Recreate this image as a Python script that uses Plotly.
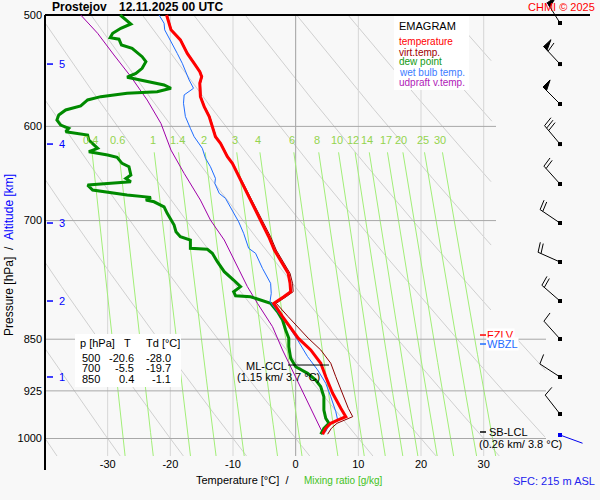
import math
import numpy as np
import plotly.graph_objects as go

# ---------------- data (pressure hPa / temperature degC) ----------------
P_T = [500, 512.3, 520.8, 532.4, 541.1, 548.6, 553.1, 559.1, 571.5, 580.9, 590.4, 600.3,
       610.2, 616.9, 630.5, 637.4, 647.9, 662.3, 680.6, 699.4, 718.8, 734.6, 746.7, 763.1,
       775.7, 786.4, 792.9, 797.2, 801.5, 819.2, 837.2, 848.6, 865.1, 884.1, 903.8, 928.7,
       951.8, 964.9, 970.2, 975.4, 983.4, 993]
T_C = [-20.6, -19.9, -18.4, -17.3, -16.2, -15.3, -15.0, -15.3, -15.2, -14.6, -13.8, -13.3,
       -12.8, -12.0, -10.9, -10.1, -9.3, -8.3, -6.9, -5.6, -4.3, -3.4, -2.4, -1.2,
       -0.9, -0.8, -1.9, -2.7, -3.5, -2.1, -0.5, 0.4, 2.4, 4.0, 4.8, 5.9,
       7.2, 8.0, 6.7, 5.6, 4.8, 4.3]
TV_C = [-20.5, -19.8, -18.3, -17.2, -16.1, -15.2, -14.9, -15.2, -15.1, -14.5, -13.7, -13.2,
        -12.7, -11.9, -10.8, -10.0, -9.2, -8.1, -6.7, -5.4, -4.0, -3.1, -2.1, -0.9,
        -0.5, -0.4, -1.5, -2.3, -3.1, -1.2, 0.8, 2.0, 4.0, 5.6, 6.4, 7.4,
        8.4, 9.1, 7.8, 6.6, 5.7, 5.1]

P_TD = [500, 504.1, 507.4, 511.0, 515.2, 518.9, 520.2, 525.2, 528.0, 535.3, 539.7, 545.6,
        550.1, 553.6, 557.7, 560.7, 563.7, 566.9, 568.4, 571.5, 574.6, 580.2, 584.1, 588.9,
        593.8, 598.7, 601.9, 605.3, 608.5, 613.5, 621.9, 625.4, 628.7, 631.1, 637.4, 640.9,
        649.7, 653.3, 656.9, 658.6, 660.5, 665.9, 668.4, 671.4, 673.9, 676.9, 678.8, 684.4,
        691.8, 699.4, 705.2, 712.9, 718.8, 722.6, 732.5, 733.7, 738.5, 748.7, 761.1, 771.5,
        780.0, 786.4, 791.6, 792.9, 797.2, 801.5, 812.6, 823.6, 837.2, 848.6, 860.4, 876.9,
        889.1, 898.8, 908.7, 918.7, 933.9, 954.5, 967.5, 975.4, 983.4, 993]
TD_C = [-28.0, -27.1, -26.3, -27.9, -29.2, -29.6, -28.2, -27.8, -26.1, -24.5, -23.9, -24.5,
        -25.5, -26.9, -23.7, -21.0, -19.9, -22.1, -26.9, -31.1, -33.2, -34.3, -36.7, -37.8,
        -38.1, -37.5, -36.2, -36.7, -33.2, -33.0, -31.6, -33.0, -30.0, -28.5, -27.7, -26.6,
        -26.3, -27.1, -26.3, -29.0, -33.2, -32.4, -30.0, -26.9, -23.1, -23.9, -22.6, -21.0,
        -20.5, -19.9, -19.4, -19.1, -18.4, -16.8, -16.8, -14.1, -13.3, -12.5, -11.4, -9.9,
        -8.8, -9.9, -9.6, -7.2, -5.6, -4.0, -2.9, -2.1, -1.6, -1.1, -1.1, -0.8,
        0.0, 1.9, 3.2, 4.0, 4.5, 4.5, 4.8, 5.3, 4.5, 4.0]

P_TW = [500, 506.8, 512.3, 523.7, 532.4, 541.1, 548.6, 556.1, 563.7, 566.9, 569.9, 577.7,
        590.4, 601.9, 610.2, 621.9, 632.1, 640.9, 653.3, 658.6, 669.5, 675.0, 688.1, 701.4,
        714.8, 732.5, 738.5, 756.9, 775.7, 788.5, 799.4, 814.7, 832.7, 851.0, 874.6, 893.9,
        913.6, 933.9, 957.1, 970.2, 978.2, 988.9, 993]
TW_C = [-21.8, -21.0, -20.9, -19.7, -18.9, -18.1, -17.6, -17.0, -16.3, -17.0, -17.8, -17.9,
        -17.6, -16.8, -16.2, -14.9, -14.4, -13.6, -12.8, -12.9, -12.2, -11.2, -10.1, -9.1,
        -8.3, -7.5, -6.4, -5.3, -4.0, -3.9, -4.1, -2.7, -1.1, 0.3, 1.9, 3.5,
        4.8, 5.6, 6.4, 6.7, 5.3, 4.8, 4.2]

P_UP = [500, 515.2, 533.8, 553.1, 574.6, 597.1, 623.7, 647.9, 676.9, 699.4, 722.6, 750.7,
        780.0, 801.5, 832.7, 865.1, 898.8, 928.7, 975.4, 991]
TUP_C = [-34.3, -31.6, -29.0, -26.3, -23.7, -21.5, -19.9, -17.8, -15.2, -13.6, -11.4, -9.6,
         -7.7, -6.1, -3.7, -2.1, -0.3, 1.3, 3.6, 4.3]

# wind (barbs every 0.5 km)
BARB_P = [506.6, 541.8, 578.4, 617.6, 659.3, 702.8, 749.1, 798.5, 849.7, 904.2, 960.7]
BARB_DIR = [328, 317, 315, 320, 318, 304, 294, 311, 318, 303, 322]
BARB_KT = [50, 60, 50, 30, 20, 20, 20, 20, 10, 10, 10]
SFC_P, SFC_DIR, SFC_KT = 994.3, 110, 2

# background reference lines
MIX_W = [0.4, 0.6, 1, 1.4, 2, 3, 4, 6, 8, 10, 12, 14, 17, 20, 25, 30]
MIX_LABELS = ["0.4", "0.6", "1", "1.4", "2", "3", "4", "6", "8", "10", "12", "14", "17", "20", "25", "30"]
ISOBARS = [600, 700, 850, 925, 1000]
ISOTHERMS = [-30, -20, -10, 0, 10, 20, 30]
THETA_1000 = [-40, -30, -20, -10, 0, 10, 20, 30, 40, 50, 60, 70, 80, 90]
X_TICKS = [-30, -20, -10, 0, 10, 20, 30]
Y_TICKS = [500, 600, 700, 850, 925, 1000]

ALT_KM = [1, 2, 3, 4, 5]
ALT_P = [904.2, 798.5, 702.8, 617.6, 541.8]

TABLE_P = [500, 700, 850]
TABLE_T = [-20.6, -5.5, 0.4]
TABLE_TD = [-28.0, -19.7, -1.1]

FZLV_P, WBZL_P, CCL_P, LCL_P = 844.2, 856.7, 886.7, 989.4

# ---------------- geometry ----------------
FONT = "Liberation Sans, Arial, sans-serif"
W, H = 600, 500
ML, MR, MT, MB = 45, 10, 0, 44
PW, PH = W - ML - MR, H - MT - MB
X0 = -40.0
PX_PER_C = 6.267
X1 = X0 + PW / PX_PER_C
P_BOT, P_TOP = 1029.05, 487.87
LOG_BOT, LOG_TOP = math.log10(P_BOT), math.log10(P_TOP)
PX_PER_DEC = PH / (LOG_BOT - LOG_TOP)
BG = "#f8f8f8"


def px_to_t(px):
    return X0 + (px - ML) / PX_PER_C


def paper_x(px):
    return (px - ML) / PW


def paper_y(py):
    return (MT + PH - py) / PH


def p_paper(p):
    return (LOG_BOT - math.log10(p)) / (LOG_BOT - LOG_TOP)


def t_paper(t):
    return (t - X0) / (X1 - X0)


def t_mix(w, p):
    e = w * p / (622.0 + w)
    l = np.log(e / 6.112)
    return 243.5 * l / (17.67 - l)


fig = go.Figure()


def line(x, y, color, width=1, dash=None):
    fig.add_trace(go.Scatter(x=list(x), y=list(y), mode="lines",
                             line=dict(color=color, width=width, dash=dash),
                             hoverinfo="skip", showlegend=False))


# dry adiabats
pp = np.geomspace(500, P_BOT, 300)
for th in THETA_1000:
    tt = (th + 273.15) * (pp / 1000.0) ** 0.2857 - 273.15
    lim = np.where(pp < 848, px_to_t(492), px_to_t(546))
    tt = np.where(tt <= lim, tt, np.nan)
    line(tt, pp, "#d0d0d0", 1)

# isotherms
for t in ISOTHERMS:
    line([t, t], [500, P_BOT], "#a0a0a0" if t == 0 else "#d6d6d6", 1)

# mixing ratio lines
pm = np.geomspace(626, P_BOT, 40)
for w in MIX_W:
    line(t_mix(w, pm), pm, "#a2ee78", 1)

# isobars
for p in ISOBARS:
    right_px = 496 if p < 800 else 546
    line([X0, px_to_t(right_px)], [p, p], "#a8a8a8", 1)

# top frame line at 500 hPa
line([X0, X1], [500, 500], "#000000", 2)

# profiles
line(TUP_C, P_UP, "#a000a8", 1)
line(TD_C, P_TD, "#008a00", 3)
line(TW_C, P_TW, "#1e6cff", 1)
line(TV_C, P_T, "#8b0000", 1)
line(T_C, P_T, "#ff0000", 3)

# altitude ticks
for km, p in zip(ALT_KM, ALT_P):
    line([px_to_t(47), px_to_t(53)], [p, p], "#0000ff", 1.5)

# level markers
line([px_to_t(288), px_to_t(329)], [CCL_P, CCL_P], "#000000", 1)
line([px_to_t(480), px_to_t(486)], [FZLV_P, FZLV_P], "#ff0000", 1.5)
line([px_to_t(480), px_to_t(486)], [WBZL_P, WBZL_P], "#1e6cff", 1.5)
line([px_to_t(480), px_to_t(486)], [LCL_P, LCL_P], "#000000", 1.5)

# wind barbs
BARB_T = px_to_t(560)


def to_data(p0, dx, dy):
    return BARB_T + dx / PX_PER_C, p0 * 10 ** (dy / PX_PER_DEC)


def draw_barb(p0, direction, speed, color):
    rad = math.radians(direction)
    ux, uy = math.sin(rad), -math.cos(rad)
    nx, ny = -uy, ux
    L = 24.0
    segs = [[(0, 0), (L * ux, L * uy)]]
    polys = []
    pos = L
    spd = int(round(speed / 5.0)) * 5
    n50, rem = divmod(spd, 50)
    n10, rem = divmod(rem, 10)
    n5 = 1 if rem >= 5 else 0
    for _ in range(n50):
        polys.append([(pos * ux, pos * uy), (pos * ux + 10 * nx, pos * uy + 10 * ny),
                      ((pos - 5) * ux, (pos - 5) * uy)])
        pos -= 6.5
    for _ in range(n10):
        segs.append([(pos * ux, pos * uy), ((pos + 2) * ux + 10 * nx, (pos + 2) * uy + 10 * ny)])
        pos -= 3.2
    for _ in range(n5):
        segs.append([(pos * ux, pos * uy), ((pos + 1) * ux + 5 * nx, (pos + 1) * uy + 5 * ny)])
    xs, ys = [], []
    for seg in segs:
        for dx, dy in seg:
            t, p = to_data(p0, dx, dy)
            xs.append(t)
            ys.append(p)
        xs.append(None)
        ys.append(None)
    line(xs, ys, color, 1)
    for poly in polys:
        px_, py_ = [], []
        for dx, dy in poly + [poly[0]]:
            t, p = to_data(p0, dx, dy)
            px_.append(t)
            py_.append(p)
        fig.add_trace(go.Scatter(x=px_, y=py_, mode="lines", fill="toself", fillcolor=color,
                                 line=dict(color=color, width=1), hoverinfo="skip", showlegend=False))
    fig.add_trace(go.Scatter(x=[BARB_T], y=[p0], mode="markers",
                             marker=dict(symbol="square", size=4, color=color),
                             hoverinfo="skip", showlegend=False, cliponaxis=False))


for p, d, s in zip(BARB_P, BARB_DIR, BARB_KT):
    draw_barb(p, d, s, "#000000")
draw_barb(SFC_P, SFC_DIR, SFC_KT, "#0000ee")

# ---------------- boxes ----------------
shapes = [
    dict(type="rect", xref="paper", yref="paper", x0=paper_x(394), x1=paper_x(469),
         y0=paper_y(16), y1=paper_y(90), fillcolor="#ffffff", line=dict(width=0), layer="above"),
    dict(type="rect", xref="paper", yref="paper", x0=paper_x(75), x1=paper_x(181),
         y0=paper_y(334), y1=paper_y(387), fillcolor="#ffffff", line=dict(width=0), layer="above"),
    dict(type="line", xref="paper", yref="paper", x0=0, x1=0, y0=p_paper(500), y1=paper_y(470),
         line=dict(color="#000000", width=2), layer="above"),
]

# ---------------- text ----------------
anns = []


def ann(text, px, py, size=11, color="#000000", xanchor="left", bold=False, **kw):
    anns.append(dict(text=f"<b>{text}</b>" if bold else text, x=paper_x(px), y=paper_y(py),
                     xref="paper", yref="paper", showarrow=False, xanchor=xanchor, yanchor="middle",
                     font=dict(family=FONT, size=size, color=color), **kw))


def ann_p(text, px, p, size=11, color="#000000", xanchor="left", **kw):
    anns.append(dict(text=text, x=paper_x(px), y=p_paper(p), xref="paper", yref="paper",
                     showarrow=False, xanchor=xanchor, yanchor="middle",
                     font=dict(family=FONT, size=size, color=color), **kw))


ann("Prostejov", 50, 7, size=12, bold=True)
ann("12.11.2025 00 UTC", 117, 7, size=12, bold=True)
ann("CHMI © 2025", 597, 7, size=11, color="#ff0000", xanchor="right")

ann("EMAGRAM", 397, 26, size=11)
legend_items = [("temperature", "#ff0000"), ("virt.temp.", "#a00000"), ("dew point", "#129a12"),
                ("wet bulb temp.", "#3c7cff"), ("udpraft v.temp.", "#b020b8")]
for i, (txt, col) in enumerate(legend_items):
    ann(txt, 397, 42 + 10 * i, size=10, color=col)

# table
ann("p [hPa]", 78, 343)
ann("T", 127, 343, xanchor="center")
ann("Td [°C]", 144, 343)
for i, (p, t, td) in enumerate(zip(TABLE_P, TABLE_T, TABLE_TD)):
    yy = 358 + 10.4 * i
    ann(str(p), 102, yy, xanchor="right")
    ann(f"{t:.1f}", 136, yy, xanchor="right")
    ann(f"{td:.1f}", 173, yy, xanchor="right")

# mixing ratio labels
for w, lab in zip(MIX_W, MIX_LABELS):
    anns.append(dict(text=lab, x=t_paper(float(t_mix(w, 614.0))), y=p_paper(614.0),
                     xref="paper", yref="paper", showarrow=False, xanchor="center", yanchor="middle",
                     font=dict(family=FONT, size=11, color="#94d44e")))

# altitude labels
for km, p in zip(ALT_KM, ALT_P):
    ann_p(str(km), 56.5, p, color="#0000ff")

# level labels
ann_p("FZLV", 486, FZLV_P, color="#ff0000", bgcolor="#ffffff", borderpad=0)
ann_p("WBZL", 486, WBZL_P, color="#1e6cff", bgcolor="#ffffff", borderpad=0)
ann_p("SB-LCL", 486.5, LCL_P)
ann("(0.26 km/ 3.8 °C)", 477, 444)
ann("ML-CCL", 289, 366, xanchor="right")
ann("(1.15 km/ 3.7 °C)", 278, 377, xanchor="center")

# axis titles
ann("Temperature [°C]\u00a0\u00a0/", 291, 480, xanchor="right")
ann("Mixing ratio [g/kg]", 302, 480, size=10, color="#44c21c")
ann("SFC: 215 m ASL", 511, 481, color="#2222ee")
anns.append(dict(text="Pressure [hPa]\u00a0\u00a0/\u00a0\u00a0<span style='color:#0000ff'>Altitude [km]</span>",
                 x=paper_x(9), y=paper_y(255), xref="paper", yref="paper", showarrow=False,
                 textangle=-90, xanchor="center", yanchor="middle",
                 font=dict(family=FONT, size=12, color="#000000")))

fig.update_layout(
    width=W, height=H,
    margin=dict(l=ML, r=MR, t=MT, b=MB, pad=0),
    paper_bgcolor=BG, plot_bgcolor=BG,
    shapes=shapes, annotations=anns, showlegend=False,
    xaxis=dict(range=[X0, X1], tickvals=X_TICKS, ticktext=[str(v) for v in X_TICKS],
               showgrid=False, zeroline=False, showline=False, ticks="",
               tickfont=dict(family=FONT, size=11, color="#000000"), fixedrange=True),
    yaxis=dict(type="log", range=[LOG_BOT, LOG_TOP], tickvals=Y_TICKS,
               ticktext=[str(v) for v in Y_TICKS], showgrid=False, zeroline=False,
               showline=False, ticks="", ticklabelstandoff=2,
               tickfont=dict(family=FONT, size=11, color="#000000"), fixedrange=True),
)

fig.write_html("out.html", config={"displayModeBar": False, "staticPlot": True},
               post_script="document.body.style.margin='0px';document.body.style.overflow='hidden';")
